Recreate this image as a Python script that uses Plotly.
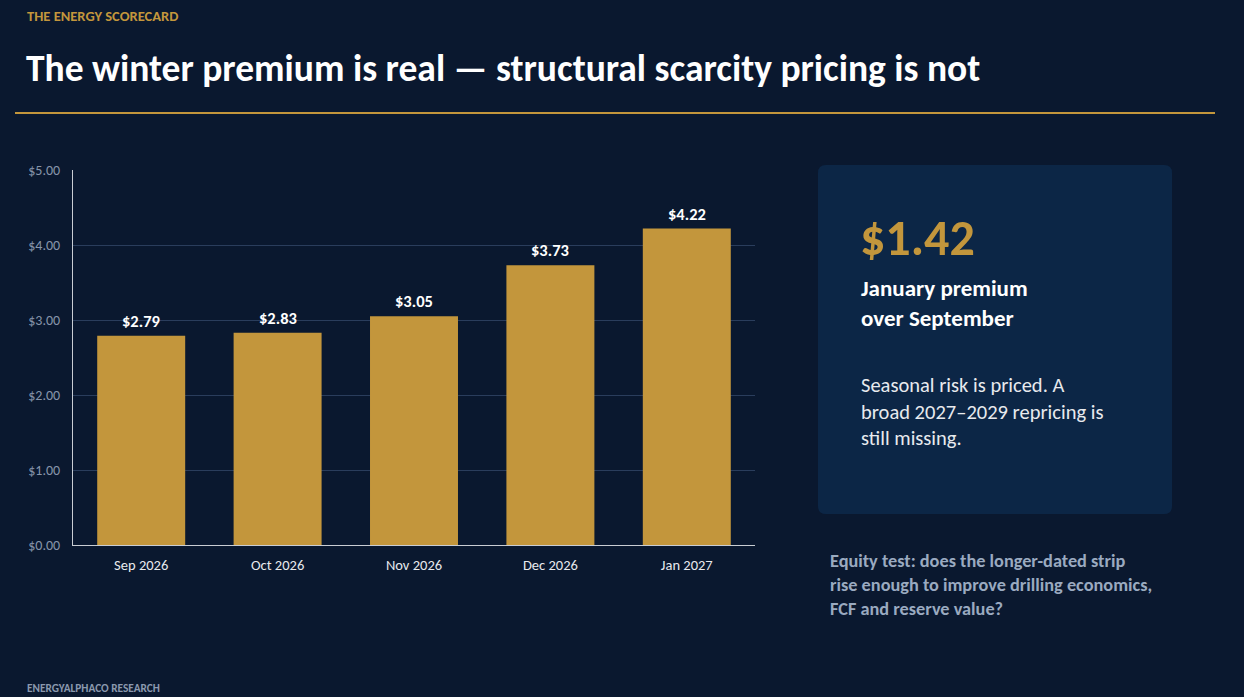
import plotly.graph_objects as go

# data
months = ['Sep 2026', 'Oct 2026', 'Nov 2026', 'Dec 2026', 'Jan 2027']
prices = [2.79, 2.83, 3.05, 3.73, 4.22]
y_ticks = [0, 1, 2, 3, 4, 5]
y_tick_labels = ['$%.2f' % v for v in y_ticks]

BG = '#0A182F'
CARD = '#0C2646'
GOLD = '#C3963C'
FONT = 'Carlito, Calibri, Lato, sans-serif'

W, H = 1244, 697
L, R, T, B = 73, 755, 170, 545   # plot area in pixels


def px(x):
    return (x - L) / (R - L)


def py(y):
    return (B - y) / (B - T)


def rounded_rect(x0, y0, x1, y1, r):
    # path in paper coords, r in pixels
    rx = r / (R - L)
    ry = r / (B - T)
    a0, a1 = px(x0), px(x1)
    b0, b1 = py(y1), py(y0)  # bottom, top
    return (f'M {a0+rx},{b0} L {a1-rx},{b0} Q {a1},{b0} {a1},{b0+ry} '
            f'L {a1},{b1-ry} Q {a1},{b1} {a1-rx},{b1} L {a0+rx},{b1} '
            f'Q {a0},{b1} {a0},{b1-ry} L {a0},{b0+ry} Q {a0},{b0} {a0+rx},{b0} Z')


fig = go.Figure(go.Bar(
    x=months, y=prices,
    marker=dict(color=GOLD, line=dict(width=0)),
    hovertemplate='%{x}: $%{y:.2f}<extra></extra>',
))

# value labels above the bars
for m, p in zip(months, prices):
    fig.add_annotation(x=m, y=p, text='$%.2f' % p, showarrow=False,
                       yanchor='bottom', yshift=3,
                       font=dict(color='white', size=16.5, family=FONT, weight='bold'))

fig.update_layout(
    width=W, height=H,
    margin=dict(l=L, r=W - R, t=T, b=H - B),
    paper_bgcolor=BG, plot_bgcolor=BG,
    bargap=0.355,
    showlegend=False,
    font=dict(family=FONT),
    xaxis=dict(showline=True, linecolor='#C9CDD3', linewidth=1, ticks='',
               tickfont=dict(color='#E8EAEE', size=14.5), showgrid=False,
               ticklabelstandoff=7),
    yaxis=dict(range=[0, 5], tickvals=y_ticks, ticktext=y_tick_labels,
               showline=True, linecolor='#C9CDD3', linewidth=1,
               gridcolor='#2A3D5C', gridwidth=1, zeroline=False,
               tickfont=dict(color='#8795AA', size=14), ticklen=0,
               ticklabelstandoff=9),
)

shapes = [
    # gold rule under title
    dict(type='line', xref='paper', yref='paper', x0=px(15), x1=px(1215),
         y0=py(113), y1=py(113), line=dict(color=GOLD, width=2), layer='below'),
    # card
    dict(type='path', xref='paper', yref='paper', path=rounded_rect(818, 165, 1172, 514, 8),
         fillcolor=CARD, line=dict(width=0), layer='below'),
]
fig.update_layout(shapes=shapes)

anns = [
    ('THE ENERGY SCORECARD', 25, 16, 14.5, GOLD, 'bold'),
    ('The winter premium is real — structural scarcity pricing is not', 24, 68, 37.5, 'white', 'bold'),
    ('ENERGYALPHACO RESEARCH', 25, 688, 11.3, '#8A98AE', 'bold'),
    ('$1.42', 858, 237, 50, GOLD, 'bold'),
    ('January premium<br>over September', 859, 303, 23, 'white', 'bold'),
    ('Seasonal risk is priced. A<br>broad 2027–2029 repricing is<br>still missing.', 859, 411, 20.5, '#E8EAEE', 'normal'),
    ('Equity test: does the longer-dated strip<br>rise enough to improve drilling economics,<br>FCF and reserve value?',
     828, 585, 18.3, '#9AAAC0', 'bold'),
]
for text, x, y, size, color, weight in anns:
    fig.add_annotation(text=text, xref='paper', yref='paper', x=px(x), y=py(y),
                       xanchor='left', yanchor='middle', align='left', showarrow=False,
                       font=dict(size=size, color=color, family=FONT, weight=weight))

fig.write_html('out.html', config={'displayModeBar': False},
               post_script="document.body.style.margin='0';")
